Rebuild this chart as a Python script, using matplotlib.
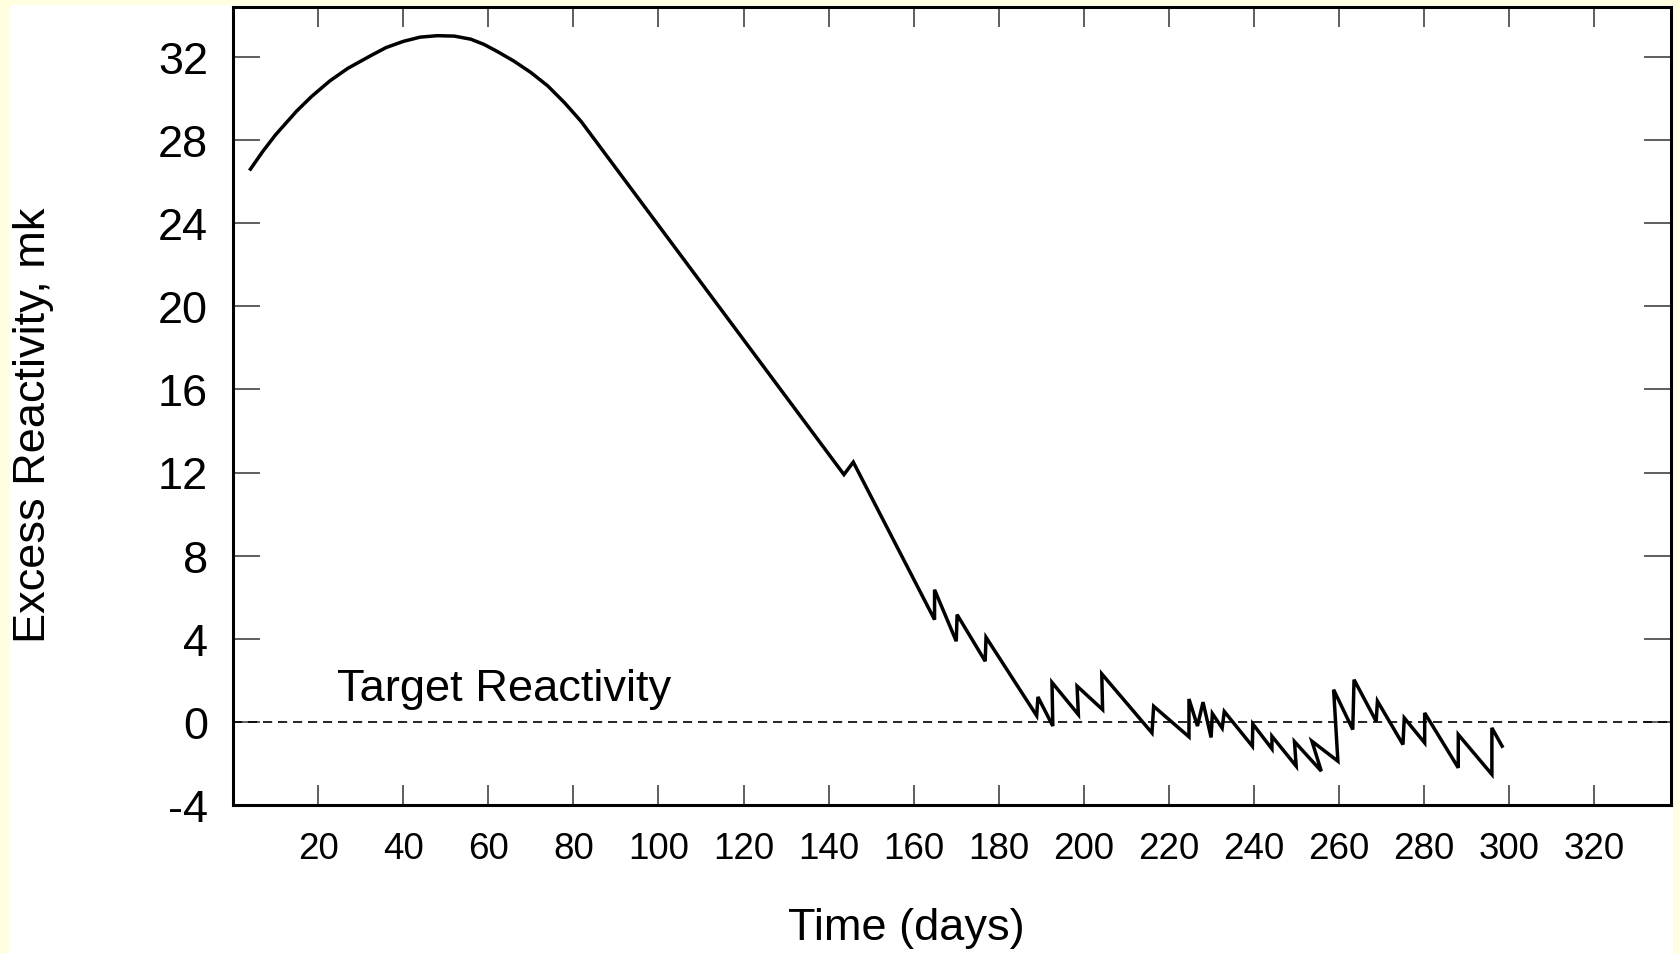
import matplotlib
matplotlib.use('Agg')
import matplotlib.pyplot as plt
from matplotlib.patches import Rectangle


# Excess reactivity vs. time.
days = [4.1, 7, 10, 15, 18.5, 22.8, 27, 32.3, 36, 40.1, 44, 48, 52, 55.9, 59, 62.2, 66, 70, 74, 77.9, 81.8,
        143.6, 145.8, 164.9, 164.9, 170.0, 170.2, 176.8, 177.0, 188.9, 189.2, 192.7, 192.5,
        198.7, 198.4, 204.4, 204.2, 216.0, 216.4, 224.7, 224.7, 226.7, 228.0, 229.9, 230.2,
        232.5, 233.0, 239.6, 239.7, 244.2, 244.2, 249.9, 249.5, 255.8, 253.6, 259.7, 258.7,
        263.2, 263.5, 268.7, 269.0, 275.0, 275.3, 280.1, 280.1, 288.0, 288.0, 295.9, 295.9, 298.3]
excess = [26.6, 27.45, 28.25, 29.4, 30.1, 30.85, 31.45, 32.05, 32.45, 32.75, 32.95, 33.02, 33.0, 32.85, 32.6, 32.25, 31.8, 31.25, 30.6, 29.8, 28.9,
          11.9, 12.5, 4.92, 6.36, 3.88, 5.16, 2.92, 4.07, 0.3, 1.2, -0.2, 1.9,
          0.35, 1.72, 0.59, 2.31, -0.53, 0.75, -0.72, 1.1, -0.2, 0.95, -0.75, 0.4,
          -0.3, 0.5, -1.17, -0.1, -1.3, -0.69, -2.13, -0.95, -2.37, -0.93, -1.89, 1.55,
          -0.37, 2.03, 0.03, 1.0, -1.09, 0.19, -1.01, 0.43, -2.21, -0.61, -2.53, -0.29, -1.17]

target_level = 0
target_label = 'Target Reactivity'

x_ticks = list(range(20, 321, 20))
y_ticks = list(range(-4, 33, 4))

save_file_name = 'out.png'


def main():
    plt.rcParams['font.family'] = ['Liberation Sans', 'DejaVu Sans']
    plt.rcParams['axes.unicode_minus'] = False

    fig = plt.figure(figsize=(16.79, 9.54), dpi=100, facecolor='#ffffe0')
    # white panel inside the pale yellow frame
    fig.patches.append(Rectangle((10 / 1679, 0), 1663 / 1679, 948 / 954,
                                 transform=fig.transFigure, facecolor='white',
                                 edgecolor='none', zorder=-10))

    ax = fig.add_axes([233 / 1679, 148 / 954, 1438 / 1679, 798 / 954])
    ax.set_facecolor('white')

    ax.plot(days, excess, color='black', linewidth=2.5, solid_joinstyle='miter')
    ax.axhline(target_level, color='black', linewidth=1.2, linestyle=(0, (5.5, 3.5)))
    ax.text(24.5, 1.05, target_label, fontsize=32.6, ha='left', va='baseline')

    ax.set_xlim(0, 338)
    ax.set_ylim(-4, 34.4)
    ax.set_xticks(x_ticks)
    ax.set_yticks(y_ticks)

    ax.tick_params(axis='x', direction='in', top=True, length=14.4, width=1.1,
                   color='#333333', labelsize=26.5, pad=19)
    ax.tick_params(axis='y', direction='in', right=True, length=19.4, width=1.1,
                   color='#333333', labelsize=32.5, pad=18)

    for spine in ax.spines.values():
        spine.set_linewidth(2.2)
        spine.set_color('black')

    ax.set_xlabel('Time (days)', fontsize=32.5, va='center', ha='center')
    ax.xaxis.set_label_coords(0.468, -0.154)
    ax.set_ylabel('Excess Reactivity, mk', fontsize=32.5, va='center', ha='center')
    ax.yaxis.set_label_coords(-0.1384, 0.477)

    plt.savefig(save_file_name, facecolor=fig.get_facecolor())


if __name__ == "__main__":
    main()
